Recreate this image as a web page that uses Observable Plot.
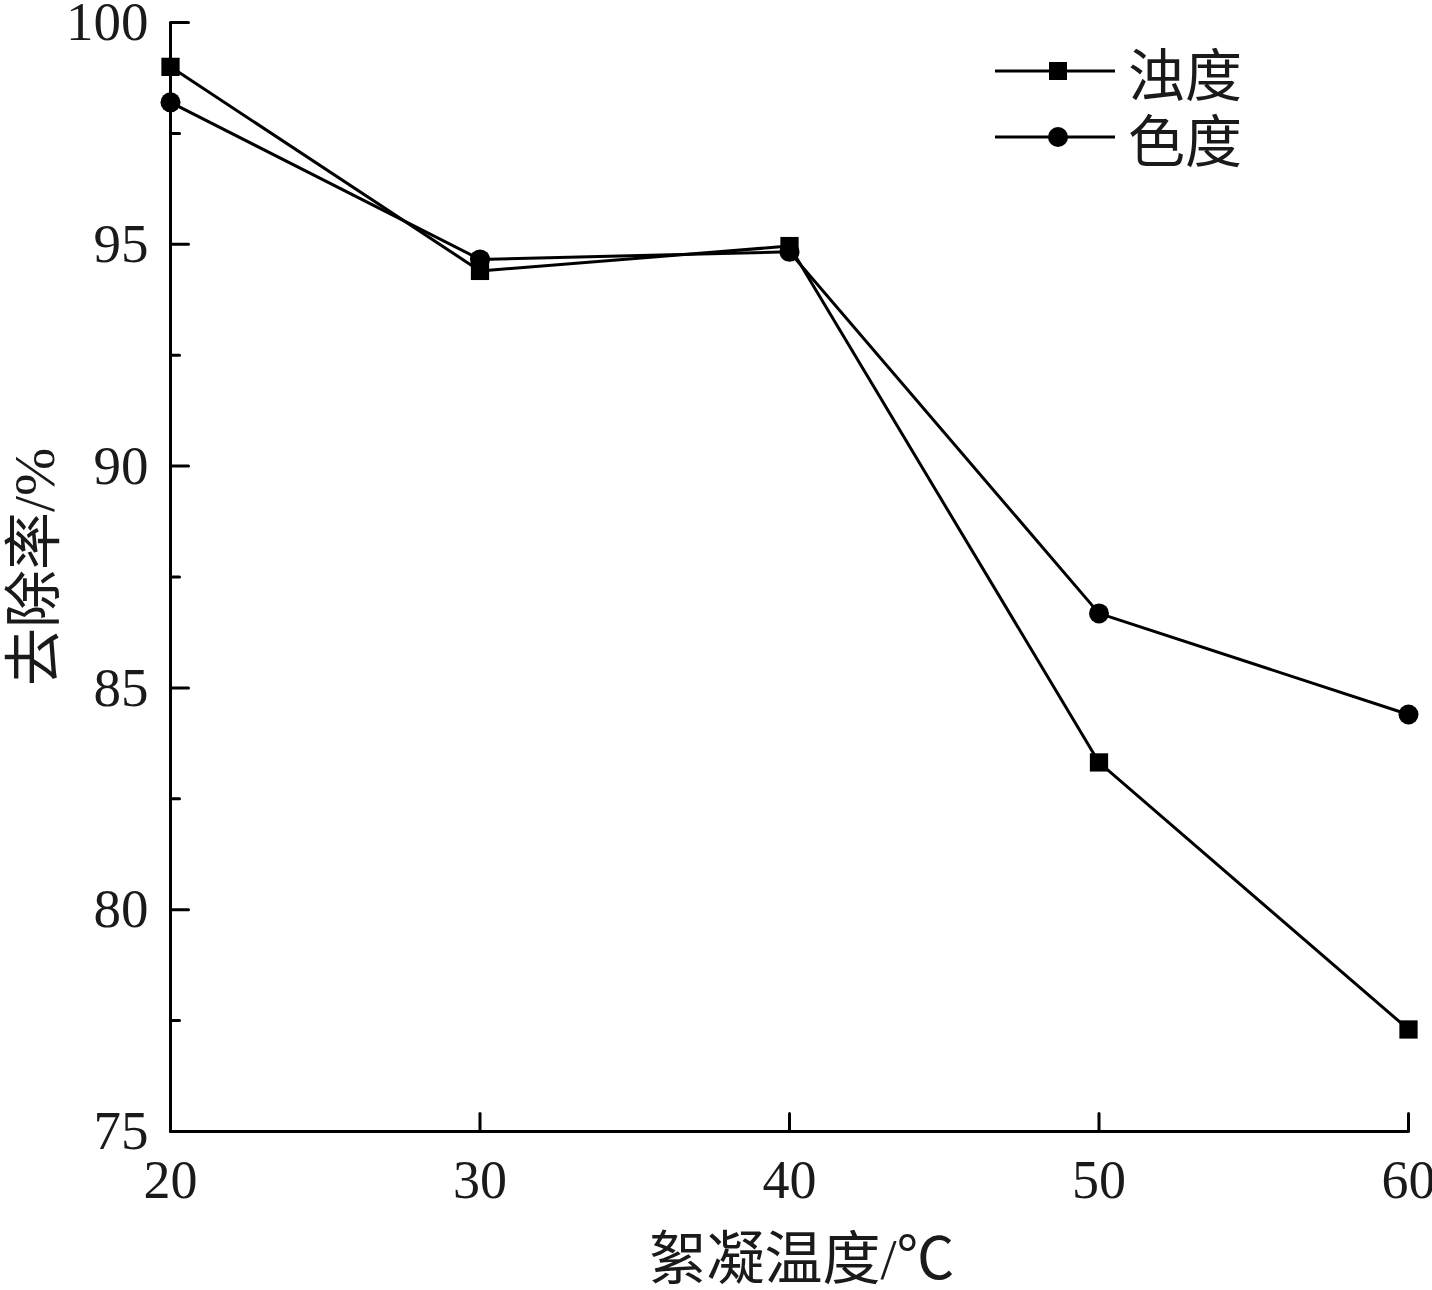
<!DOCTYPE html>
<html>
<head>
<meta charset="utf-8">
<script src="https://cdn.jsdelivr.net/npm/d3@7"></script>
<script src="https://cdn.jsdelivr.net/npm/@observablehq/plot@0.6"></script>
<style>
  html, body { margin: 0; padding: 0; background: #fff; }
  #wrap { position: relative; width: 1432px; height: 1290px; font-family: "Liberation Serif", "Noto Sans CJK SC", serif; }
  #legend { position: absolute; left: 995px; top: 38px; }
  .row { display: flex; align-items: center; height: 66px; }
  .row span { display: inline-block; height: 58px; line-height: 58px; overflow: visible; font-size: 57px; color: #1a1a1a; margin-left: 13px; font-family: "Noto Sans CJK SC", sans-serif; }
</style>
</head>
<body>
<div id="wrap"></div>
<script>
const temps = [20, 30, 40, 50, 60];
const turbidity = [99.0, 94.4, 94.96, 83.32, 77.3];
const chroma = [98.2, 94.66, 94.83, 86.68, 84.4];
const seriesNames = ["浊度", "色度"];
const seriesSymbols = ["square", "circle"];
const xTicks = [20, 30, 40, 50, 60];
const yMajor = [75, 80, 85, 90, 95, 100];
const yMinor = [77.5, 82.5, 87.5, 92.5, 97.5];
const xLabel = "絮凝温度/℃";
const yLabel = "去除率/%";

const turbRows = temps.map((t, i) => ({series: seriesNames[0], x: t, y: turbidity[i]}));
const chromaRows = temps.map((t, i) => ({series: seriesNames[1], x: t, y: chroma[i]}));

const xMin = xTicks[0], yMin = yMajor[0];
const yMajorTicks = yMajor.map(v => ({x: xMin, y: v}));
const yMinorTicks = yMinor.map(v => ({x: xMin, y: v}));
const xMajorTicks = xTicks.map(v => ({x: v, y: yMin}));

const tickShape = {draw(context, l) { context.moveTo(0, 0); context.lineTo(0, -l); }};

const font = '"Liberation Serif", "Noto Sans CJK SC", serif';

const chart = Plot.plot({
  width: 1432,
  height: 1290,
  marginLeft: 170,
  marginRight: 24,
  marginTop: 22,
  marginBottom: 159,
  style: {fontFamily: font, fontSize: "54px", color: "#1a1a1a", background: "#fff", overflow: "visible"},
  x: {domain: [20, 60]},
  y: {domain: [75, 100]},
  marks: [
    Plot.axisY({ticks: yMajor, tickSize: 0, tickPadding: 22, tickFormat: d => String(d), fontSize: 55, label: null}),
    Plot.axisX({ticks: xTicks, tickSize: 0, tickPadding: 28, tickFormat: d => String(d), fontSize: 54, label: null}),
    Plot.vector(yMajorTicks, {x: "x", y: "y", length: 18, rotate: 90, anchor: "start", shape: tickShape, stroke: "#000", strokeWidth: 3}),
    Plot.vector(yMinorTicks, {x: "x", y: "y", length: 9, rotate: 90, anchor: "start", shape: tickShape, stroke: "#000", strokeWidth: 3}),
    Plot.vector(xMajorTicks, {x: "x", y: "y", length: 18, rotate: 0, anchor: "start", shape: tickShape, stroke: "#000", strokeWidth: 3}),
    Plot.ruleX([xMin], {strokeWidth: 3, stroke: "#000"}),
    Plot.ruleY([yMin], {strokeWidth: 3, stroke: "#000"}),
    Plot.text([xLabel], {frameAnchor: "bottom", dx: 12, dy: 147, lineAnchor: "bottom", fontSize: 58, fill: "#1a1a1a"}),
    Plot.text([yLabel], {frameAnchor: "left", dx: -135, dy: 109, rotate: -90, lineAnchor: "middle", fontSize: 58, fill: "#1a1a1a"}),
    Plot.line(turbRows, {x: "x", y: "y", stroke: "#000", strokeWidth: 3}),
    Plot.line(chromaRows, {x: "x", y: "y", stroke: "#000", strokeWidth: 3}),
    Plot.dot(turbRows, {x: "x", y: "y", symbol: "square", r: 10.3, fill: "#000", stroke: "none"}),
    Plot.dot(chromaRows, {x: "x", y: "y", symbol: "circle", r: 10, fill: "#000", stroke: "none"})
  ]
});

document.getElementById("wrap").appendChild(chart);

// legend
const legend = document.createElement("div");
legend.id = "legend";
seriesNames.forEach((name, i) => {
  const row = document.createElement("div");
  row.className = "row";
  const ns = "http://www.w3.org/2000/svg";
  const svg = document.createElementNS(ns, "svg");
  svg.setAttribute("width", 120);
  svg.setAttribute("height", 30);
  const line = document.createElementNS(ns, "line");
  line.setAttribute("x1", 0); line.setAttribute("x2", 120);
  line.setAttribute("y1", 15); line.setAttribute("y2", 15);
  line.setAttribute("stroke", "#000"); line.setAttribute("stroke-width", 3);
  svg.appendChild(line);
  let m;
  if (seriesSymbols[i] === "square") {
    m = document.createElementNS(ns, "rect");
    m.setAttribute("x", 54); m.setAttribute("y", 6); m.setAttribute("width", 18); m.setAttribute("height", 18);
  } else {
    m = document.createElementNS(ns, "circle");
    m.setAttribute("cx", 63); m.setAttribute("cy", 15); m.setAttribute("r", 10);
  }
  m.setAttribute("fill", "#000");
  svg.appendChild(m);
  row.appendChild(svg);
  const sp = document.createElement("span");
  sp.textContent = name;
  row.appendChild(sp);
  legend.appendChild(row);
});
document.getElementById("wrap").appendChild(legend);
</script>
</body>
</html>
